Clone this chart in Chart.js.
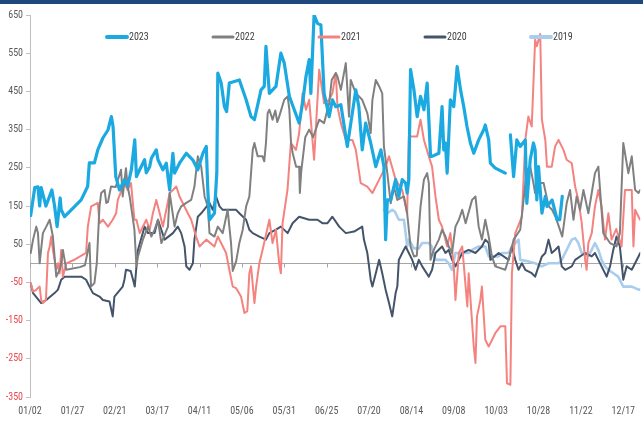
<!DOCTYPE html>
<html><head><meta charset="utf-8">
<script src="https://cdn.jsdelivr.net/npm/chart.js@4.4.1/dist/chart.umd.min.js"></script>
<style>
html,body{margin:0;padding:0;background:#fff;}
#wrap{position:relative;width:643px;height:428px;overflow:hidden;}
#band{position:absolute;left:0;top:0;width:643px;height:4px;background:#1F497D;}
canvas{display:block;}
</style></head><body>
<div id="wrap"><canvas id="c" width="643" height="428"></canvas><div id="band"></div></div>
<script>
// x tick labels (every 25 days from 01/02)
const xTickLabels = ['01/02','01/27','02/21','03/17','04/11','05/06','05/31','06/25','07/20','08/14','09/08','10/03','10/28','11/22','12/17'];
const seriesNames = ['2023','2022','2021','2020','2019'];

// [day offset from 01/02, value]
const pts2023 = [[0.4,125],[2.8,198],[4.7,200],[5.7,150],[6.6,198],[9.4,150],[12.9,192],[14.5,150],[16,96],[17.8,171],
[18.4,140],[20.4,122],[30.2,166],[34,201],[35,263],[38,263],[40,297],[43,328],[46,349],[48,384],
[49,358],[50.6,227],[52.8,192],[55.7,219],[57.6,201],[59.8,245],[61.8,323],[62.8,227],[64.7,245],[67.6,271],
[68.6,237],[70.6,253],[71.6,275],[74.5,297],[75.5,271],[78.4,245],[80.4,262],[82.4,192],[84.3,288],[85.3,236],
[88.2,262],[92.2,288],[96,271],[99,245],[102,288],[104,306],[104.9,192],[105.9,114],[108.8,131],[110.2,236],
[110.8,498],[112.8,472],[114.7,410],[116,397],[117.6,472],[123.5,480],[127.5,428],[130.4,384],[132.4,376],[136.3,454],
[138.2,463],[139.2,568],[141.2,445],[145.1,463],[148,550],[150,524],[153,437],[155.9,402],[158.8,367],[160.8,419],
[162.8,489],[164.7,533],[165.7,445],[167.6,650],[169.6,628],[171.6,624],[173.5,445],[176.5,384],[178.4,428],[180.4,410],
[183.4,415],[187.2,306],[192.2,454],[194,410],[196,297],[198,367],[201,315],[204,253],[207,297],[208.8,253],
[209.8,62],[210.8,166],[212.8,166],[215.7,219],[217.6,175],[219.6,219],[221.6,210],[222.5,184],[223.5,219],[224.5,507],
[226.5,454],[228.4,384],[230.4,437],[232.4,402],[234.3,472],[236.3,280],[237.2,280],[241.2,288],[243.1,410],[244.1,297],
[245.1,315],[246.1,236],[248,428],[250,410],[252,515],[254,454],[255.9,410],[257.8,358],[259.8,315],[261.8,288],
[264.7,323],[267.6,349],[268.6,362],[270.6,323],[271.6,262],[274.5,249],[280.4,236],[282,null],[283.4,336],[285.3,227],
[287.2,323],[289.2,306],[292.2,323],[293.1,157],[295.1,271],[297,315],[298,297],[299,166],[300,253],[302,131],
[304,175],[305,149],[308,166],[311,114],[312.5,114],[314,175]];

const pts2022 = [[0.4,27],[1.8,62],[3.7,96],[4.7,79],[5.7,0],[7.6,79],[9.6,96],[11.6,114],[13.5,70],[15.5,-35],
[17.5,-17],[18.4,0],[19.4,35],[21.4,-17],[29.4,-10],[32.4,-5],[35.1,53],[36,-61],[38,-52],[39.4,0],
[41,149],[42,184],[44,192],[45,158],[46,160],[47.8,201],[50.6,200],[53.7,245],[54.7,175],[56.6,249],
[57.6,201],[58.8,175],[61.6,88],[62.8,-8],[63.7,18],[66.6,62],[69.6,96],[71.6,70],[73.5,88],[75.5,114],
[77.5,53],[81.4,96],[82.4,184],[85.3,96],[87.2,131],[89.2,149],[92.2,158],[95.1,166],[97,201],[99,280],
[101,253],[103,175],[104.9,149],[105.9,79],[108.8,70],[110.8,96],[113.7,79],[116.6,140],[118.6,53],[119.6,-20],
[121.6,5],[123.5,53],[125.5,88],[127.5,149],[129.4,175],[131.4,297],[132.4,315],[134.3,280],[137.2,280],[138.2,267],
[139.2,315],[140.2,393],[141.2,402],[143.1,376],[144.7,400],[145.9,370],[147,384],[150,428],[152,437],[153,402],
[154,315],[155,288],[157,253],[158.8,253],[159.2,184],[160,240],[162.4,330],[164.7,350],[167,330],[170.6,376],
[173.5,367],[176.5,419],[178,480],[180.4,498],[181.4,489],[183.4,454],[186.3,524],[188.2,384],[189.2,480],[192.2,445],
[196,428],[199,393],[201,341],[202,428],[204,480],[206,463],[207.8,445],[208.8,306],[210.8,236],[212.8,157],
[214.7,201],[216.7,166],[220.6,175],[222.5,131],[224.5,44],[226.5,18],[228.2,20],[230.4,149],[232.4,219],[234.3,236],
[235.3,210],[236.3,9],[238.2,35],[241.2,62],[243.1,88],[245.1,70],[247,44],[249,27],[251,96],[253,114],
[255,140],[257,105],[260.8,166],[262.8,175],[264.7,96],[266.6,62],[268.6,114],[270.6,70],[272.5,18],[274.5,-8],
[280.4,-17],[283.4,27],[285.3,62],[289.2,88],[291.2,166],[293.1,245],[295.1,253],[297,210],[298,184],[300,210],
[303,210],[306,149],[308,140],[310,122],[312,96],[314,70],[316.6,157],[318.6,192],[320.6,114],[322.5,175],
[324.5,140],[326.5,192],[329.4,131],[331.4,184],[333.3,236],[335.3,253],[338.2,79],[342.2,53],[346,44],[348,79],
[350,315],[353,236],[355,280],[357,192],[359,184],[360,192]];

const pts2021 = [[0.4,-52],[1.8,-74],[3.5,-70],[5.7,-61],[6.6,-96],[7.6,-104],[9.4,-96],[10.6,27],[11.6,44],[12.5,70],
[13.5,35],[15.5,-17],[16.5,0],[17.5,-26],[18.4,35],[19.4,-35],[21.4,0],[26.5,10],[33.1,27],[34.1,96],
[36.1,149],[40,158],[41,105],[43,114],[46,96],[48.8,114],[50.8,131],[51.8,166],[55.7,210],[57.6,192],
[59.6,210],[61.6,114],[62.8,114],[64.7,79],[68.6,114],[70.6,88],[72.5,131],[74.5,166],[76.5,131],[78.4,96],
[80.4,140],[82.4,184],[84.3,192],[86.3,201],[88.2,175],[93.1,131],[95.1,114],[98,70],[100,44],[104,62],
[108.8,44],[110.8,70],[115.7,27],[117.6,-17],[119.6,-61],[121.6,-65],[124.5,-87],[126.5,-130],[128.2,-125],[129.4,-26],
[130.4,-8],[132.4,-104],[133.4,-61],[135.3,0],[137.2,35],[141.2,114],[143.1,53],[145.1,88],[147,0],[148,-26],
[149,105],[151.9,192],[153.9,315],[156.9,297],[158.8,341],[160.8,445],[162.8,402],[164.7,428],[167.6,271],[170.6,507],
[173.5,419],[176.5,428],[178.4,445],[180.4,498],[181.4,410],[183.4,367],[186.3,323],[190.2,323],[192.2,297],[195.1,210],
[199,201],[202,184],[206,219],[209.8,253],[211.8,280],[215.7,219],[219.6,192],[221.6,149],[222.5,131],[223.5,332],
[228.4,332],[230.4,376],[232.4,323],[235.3,280],[237.2,253],[239.2,175],[241.2,114],[243.1,96],[246.1,44],[248,79],
[250,-8],[251,-96],[253,27],[255,44],[257,-61],[258,-113],[258.8,-26],[261.8,-218],[262.8,-261],[263.7,-139],
[265.7,-96],[266.6,-61],[268.6,-200],[270.6,-218],[274.5,-183],[277.5,-165],[280.4,-165],[281.4,-314],[283.4,-318],[284.3,-26],
[286.3,79],[290.2,122],[292.2,323],[294,384],[296,358],[298,585],[299,568],[301,600],[302,376],[304,323],
[305,253],[307.8,253],[309.8,306],[311.8,323],[314.7,297],[316.6,271],[319.6,262],[321.6,201],[323.5,166],[325.5,105],
[327.5,9],[328.4,-17],[329.4,53],[331.4,79],[333.3,149],[335.3,192],[337.2,149],[339.2,62],[341.2,131],[343.1,62],
[345.9,90],[349,44],[351,192],[355,192],[356,44],[357,140],[359,122],[360,114]];

const pts2020 = [[0.4,-52],[1.8,-78],[6.6,-104],[9.6,-96],[14.5,-78],[16.5,-69],[18.4,-43],[20.4,-35],[30.2,-35],[33.1,-43],
[35.1,-61],[37.1,-78],[41,-87],[43,-96],[46.9,-100],[48.8,-139],[49.8,-87],[54.7,-61],[55.7,-43],[56.6,-17],
[59.4,-20],[60.8,-43],[61.8,-61],[62.8,-8],[63.7,35],[67.6,96],[69.6,79],[73.5,79],[75.5,114],[79.4,62],
[84.3,79],[87.2,96],[89.2,79],[91.2,44],[92.2,-8],[94.1,-17],[96.1,0],[97,62],[99,122],[101,131],
[105.9,158],[107.8,140],[109.8,175],[111.8,149],[113.7,140],[121.6,140],[123.5,131],[127.5,114],[129.4,88],[131.4,79],
[135.3,70],[139.2,62],[141.2,79],[145.1,88],[148,96],[152,79],[154.9,105],[158.8,122],[164.7,114],[169.6,114],
[172.5,105],[175.5,105],[178.4,122],[182.4,96],[186.3,79],[191.2,83],[196,96],[197,62],[199,27],[201,-43],
[202,-61],[204,-26],[206,9],[207.8,-26],[209.8,-69],[211.8,-104],[213.7,-139],[215.7,-78],[216.7,-61],[217.6,9],
[219.6,27],[221.6,44],[225.5,9],[227.5,-17],[229.4,9],[231.4,-8],[235.3,-35],[237.2,-17],[239.2,27],[243.1,44],
[245.1,27],[247,35],[249,9],[251,-8],[255,27],[258.8,35],[262.8,27],[266.6,44],[268.6,62],[270.6,53],
[271.6,9],[276.5,27],[282.4,9],[284.3,44],[286.3,9],[288.2,-17],[290.2,0],[292.2,-17],[296,-26],[298,-35],
[300,-8],[302,18],[304,27],[305.9,62],[307.8,27],[309.8,35],[311.8,44],[313.7,-8],[315.7,-17],[319.6,-8],
[321.6,9],[327.5,27],[331.4,18],[333.3,27],[335.3,9],[340.2,-35],[342.2,-8],[344.1,35],[346,70],[348,44],
[350,-43],[352,-8],[355,-17],[359,18],[360,27]];

const pts2019 = [[208.8,140],[210.8,131],[213.7,140],[215.3,135],[217.6,114],[220.6,114],[221.6,79],[222.5,44],[223.5,62],[226.5,39],
[229.4,39],[231.4,53],[235.3,53],[237,44],[239.2,9],[245.1,9],[247,0],[249,-17],[251,27],[255,27],
[258.8,27],[260.8,35],[264.7,44],[268.6,44],[270.6,18],[276.5,18],[278.4,27],[282.4,27],[284.3,44],[286.3,53],
[288.2,62],[289.2,9],[294,5],[298,0],[302,-8],[305.9,0],[311.8,0],[313.7,9],[315.7,27],[317.6,44],
[319.6,62],[321.6,66],[323.5,53],[325.5,27],[329.4,18],[333.3,53],[335.3,35],[337.2,9],[339.2,-8],[341.2,-17],
[347,-35],[350,-61],[355,-61],[357,-65],[359,-69],[360,-69]];

const seriesPoints = [pts2023, pts2022, pts2021, pts2020, pts2019];
const seriesColors = ['#1AA9E1','#808080','#F4827F','#44546A','#A9CDEE'];
const seriesWidths = [3.2, 2, 2, 2, 2.6];
const legendWidths = [4, 3, 3, 3, 4];

const FONT = "'Liberation Sans Narrow','Roboto Condensed','Liberation Sans',sans-serif";

const zeroLinePlugin = {
  id: 'zeroLine',
  beforeDatasetsDraw(chart) {
    const {ctx, chartArea, scales} = chart;
    const y0 = Math.round(scales.y.getPixelForValue(0)) + 0.5;
    ctx.save();
    ctx.strokeStyle = '#A6A6A6';
    ctx.lineWidth = 1;
    ctx.beginPath();
    ctx.moveTo(chartArea.left, y0);
    ctx.lineTo(chartArea.right, y0);
    scales.x.ticks.forEach(t => {
      const x = Math.round(scales.x.getPixelForValue(t.value)) + 0.5;
      ctx.moveTo(x, y0);
      ctx.lineTo(x, y0 + 4);
    });
    ctx.stroke();
    ctx.restore();
  }
};

const legendPlugin = {
  id: 'inlineLegend',
  afterDraw(chart) {
    const {ctx, chartArea} = chart;
    const y = chartArea.top + 22;
    chart.data.datasets.forEach((ds, i) => {
      const x0 = chartArea.left + 77 + i * 106;
      ctx.save();
      ctx.strokeStyle = ds.borderColor;
      ctx.lineWidth = legendWidths[i];
      ctx.lineCap = 'round';
      ctx.beginPath();
      ctx.moveTo(x0, y);
      ctx.lineTo(x0 + 20, y);
      ctx.stroke();
      ctx.fillStyle = '#404040';
      ctx.font = '10px ' + FONT;
      ctx.textBaseline = 'middle';
      ctx.textAlign = 'left';
      ctx.fillText(ds.label, x0 + 22, y);
      ctx.restore();
    });
  }
};

new Chart(document.getElementById('c'), {
  type: 'line',
  data: {
    datasets: seriesNames.map((name, i) => ({
      label: name,
      data: seriesPoints[i].map(p => ({x: p[0], y: p[1]})),
      borderColor: seriesColors[i],
      backgroundColor: seriesColors[i],
      borderWidth: seriesWidths[i],
      pointRadius: 0,
      tension: 0,
      spanGaps: false,
      borderJoinStyle: 'round',
      borderCapStyle: 'round'
    }))
  },
  options: {
    responsive: false,
    animation: false,
    devicePixelRatio: 1,
    layout: {padding: {top: 15, right: 0, bottom: 0, left: 0}},
    plugins: {legend: {display: false}, tooltip: {enabled: false}},
    scales: {
      x: {
        type: 'linear', min: 0, max: 360,
        afterFit(s) { s.height = 31; },
        grid: {display: false, drawTicks: false},
        border: {display: false},
        ticks: {
          stepSize: 25, includeBounds: false, autoSkip: false, maxRotation: 0, padding: 8,
          color: '#595959', font: {family: FONT, size: 10},
          callback: v => xTickLabels[Math.round(v / 25)] ?? ''
        }
      },
      y: {
        min: -350, max: 650,
        afterFit(s) { s.width = 30; },
        grid: {drawOnChartArea: false, drawTicks: true, tickLength: 4, tickColor: '#BFBFBF', color: '#BFBFBF'},
        border: {display: true, color: '#BFBFBF'},
        ticks: {
          stepSize: 100, padding: 3,
          color: c => (c.tick && c.tick.value < 0) ? '#E8474F' : '#595959',
          font: {family: FONT, size: 10}
        }
      }
    }
  },
  plugins: [zeroLinePlugin, legendPlugin]
});
</script>
</body></html>
